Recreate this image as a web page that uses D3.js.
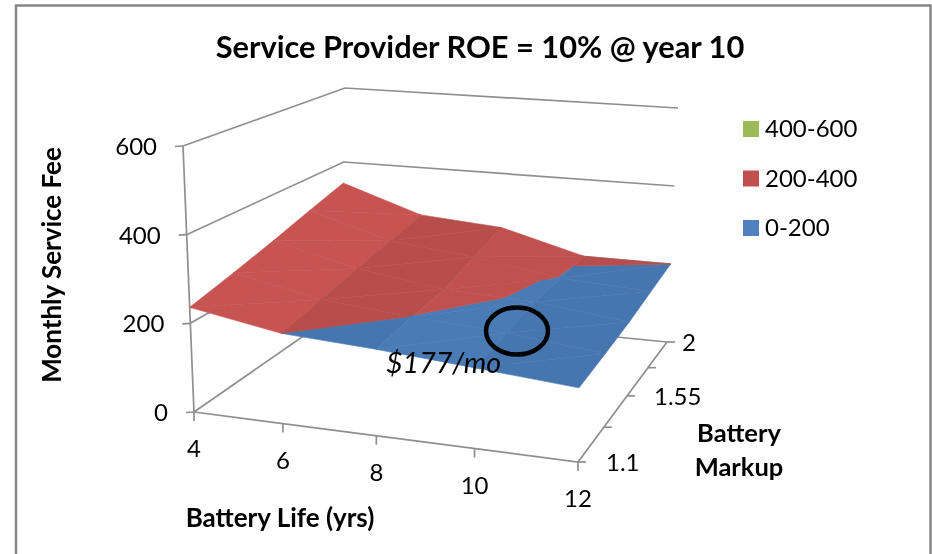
<!DOCTYPE html>
<html><head><meta charset="utf-8">
<script src="https://cdnjs.cloudflare.com/ajax/libs/d3/7.8.5/d3.min.js"></script>
<style>html,body{margin:0;padding:0;background:#fff}svg{display:block;filter:blur(0.45px)}text{font-family:Lato,"Open Sans",sans-serif;fill:#000}</style>
</head><body><svg id="c" width="932" height="554"></svg>
<script>
const title = "Service Provider ROE = 10% @ year 10";
const batteryLife = [4, 6, 8, 10, 12];
const markup = [1.1, 1.325, 1.55, 1.775, 2];
const fee1_1   = [236, 200, 188, 172, 155];
const fee1_325 = [260, 218, 199.6, 185, 163];
const fee1_55  = [286, 237, 206, 197, 172];
const fee1_775 = [315, 255, 232, 198.7, 186];
const fee2     = [343, 274, 258, 201.1, 200];
const zTicks = [0, 200, 400, 600];
const xTickLabels = ["4", "6", "8", "10", "12"];
const yTickLabels = ["1.1", "1.55", "2"];
const bands = ["0-200", "200-400", "400-600"];
const bandColors = ["#4a7cb8", "#c25250", "#9bbb59"];
const columnShade = [1.03, 0.95, 0.99, 0.95];

const grid = [fee1_1, fee1_325, fee1_55, fee1_775, fee2];
const svg = d3.select("#c");

const floorQ = [[194,412],[578,462],[667,342],[341,310]];
const topQ   = [[183,146],[582,175],[678,108],[345,88]];
function homography(q){
  const [p0,p1,p2,p3]=q;
  const dx1=p1[0]-p2[0],dx2=p3[0]-p2[0],sx=p0[0]-p1[0]+p2[0]-p3[0];
  const dy1=p1[1]-p2[1],dy2=p3[1]-p2[1],sy=p0[1]-p1[1]+p2[1]-p3[1];
  const d=dx1*dy2-dx2*dy1;
  const g=(sx*dy2-dx2*sy)/d,h=(dx1*sy-sx*dy1)/d;
  const a=p1[0]-p0[0]+g*p1[0],b=p3[0]-p0[0]+h*p3[0],c=p0[0];
  const e=p1[1]-p0[1]+g*p1[1],f=p3[1]-p0[1]+h*p3[1],k=p0[1];
  return (u,v)=>{const w=g*u+h*v+1;return [(a*u+b*v+c)/w,(e*u+f*v+k)/w];};
}
const hF=homography(floorQ), hT=homography(topQ);
const uS=d3.scaleLinear().domain([4,12]).range([0,1]);
const vS=d3.scaleLinear().domain([1.1,2]).range([0,1]);
const zS=d3.scaleLinear().domain([0,600]).range([0,1]);
function proj(x,y,z){
  const u=uS(x),v=vS(y),t=zS(z),a=hF(u,v),b=hT(u,v);
  return [a[0]+(b[0]-a[0])*t,a[1]+(b[1]-a[1])*t];
}
const line=d3.line();
const axisColor="#8f8f8f";
function seg(pts,w){svg.append("path").attr("d",line(pts)).attr("fill","none").attr("stroke",axisColor).attr("stroke-width",w||1.7);}

// chart frame
svg.append("rect").attr("x",16).attr("y",5.5).attr("width",914.5).attr("height",600)
  .attr("fill","#fff").attr("stroke","#868686").attr("stroke-width",2.5);

// walls
const x0=4,x1=12,y0=1.1,y1=2;
zTicks.forEach(z=>{
  seg([proj(x0,y0,z),proj(x0,y1,z),proj(x1,y1,z)]);
  const p=proj(x0,y0,z);
  seg([[p[0]-8,p[1]+0.5],[p[0],p[1]]]);
  svg.append("text").attr("x",p[0]-26).attr("y",p[1]+9).attr("text-anchor","end").attr("font-size",24).text(z);
});
seg([proj(x0,y0,0),proj(x0,y0,600)]);
seg([proj(x0,y0,0),proj(x1,y0,0),proj(x1,y1,0)]);
batteryLife.forEach((x,i)=>{
  const p=proj(x,y0,0);
  seg([p,[p[0],p[1]+9]]);
  svg.append("text").attr("x",p[0]).attr("y",p[1]+45).attr("text-anchor","middle").attr("font-size",24).text(xTickLabels[i]);
});
markup.forEach((m,i)=>{
  const p=proj(x1,m,0);
  seg([p,[p[0]+8,p[1]]]);
  if(i%2===0){
    const lab=yTickLabels[i/2];
    svg.append("text").attr("x",p[0]+ (i===0?28:i===2?27:15)).attr("y",p[1]+9).attr("font-size",24).text(lab);
  }
});

function clip(poly,z,keepAbove){
  const out=[];
  for(let i=0;i<poly.length;i++){
    const a=poly[i],b=poly[(i+1)%poly.length];
    const ia=keepAbove?a[2]>=z:a[2]<=z, ib=keepAbove?b[2]>=z:b[2]<=z;
    if(ia)out.push(a);
    if(ia!==ib){const t=(z-a[2])/(b[2]-a[2]);out.push([a[0]+(b[0]-a[0])*t,a[1]+(b[1]-a[1])*t,z]);}
  }
  return out;
}
function shade(c,k){const r=d3.rgb(c);return d3.rgb(r.r*k,r.g*k,r.b*k).formatHex();}
for(let j=markup.length-2;j>=0;j--){
  for(let i=0;i<batteryLife.length-1;i++){
    const A=[batteryLife[i],markup[j],grid[j][i]],B=[batteryLife[i+1],markup[j],grid[j][i+1]],
          C=[batteryLife[i+1],markup[j+1],grid[j+1][i+1]],D=[batteryLife[i],markup[j+1],grid[j+1][i]];
    [[A,B,C],[A,C,D]].forEach(tri=>{
      bands.forEach((b,k)=>{
        const lo=k*200,hi=(k+1)*200;
        let poly=clip(clip(tri,lo,true),hi,false);
        if(poly.length<3)return;
        const col=shade(bandColors[k],columnShade[i]);
        svg.append("path").attr("d",line(poly.map(p=>proj(p[0],p[1],p[2])))+"Z")
          .attr("fill",col).attr("stroke",col).attr("stroke-width",0.6).attr("stroke-linejoin","round");
      });
    });
  }
}

svg.append("ellipse").attr("cx",517).attr("cy",331).attr("rx",31).attr("ry",23.5)
  .attr("fill","none").attr("stroke","#000").attr("stroke-width",4.5);
svg.append("text").attr("x",386).attr("y",373).attr("font-size",28.6).attr("font-style","italic").text("$177/mo");

svg.append("text").attr("x",480).attr("y",58).attr("text-anchor","middle").attr("font-size",30.8).attr("font-weight",700).text(title);
svg.append("text").attr("transform","translate(61,265) rotate(-90)").attr("text-anchor","middle").attr("font-size",26).attr("font-weight",700).text("Monthly Service Fee");
svg.append("text").attr("x",280).attr("y",527).attr("text-anchor","middle").attr("font-size",26).attr("font-weight",700).text("Battery Life (yrs)");
svg.append("text").attr("x",739).attr("y",442).attr("text-anchor","middle").attr("font-size",25.5).attr("font-weight",700).text("Battery");
svg.append("text").attr("x",739).attr("y",476).attr("text-anchor","middle").attr("font-size",25.5).attr("font-weight",700).text("Markup");

const legendColors=["#9bbb59","#c0504d","#4f81bd"];
bands.slice().reverse().forEach((b,i)=>{
  const y=129+i*49.5;
  svg.append("rect").attr("x",743).attr("y",y-8).attr("width",16).attr("height",16).attr("fill",legendColors[i]);
  svg.append("text").attr("x",765).attr("y",y+8).attr("font-size",24).text(b);
});
</script></body></html>
